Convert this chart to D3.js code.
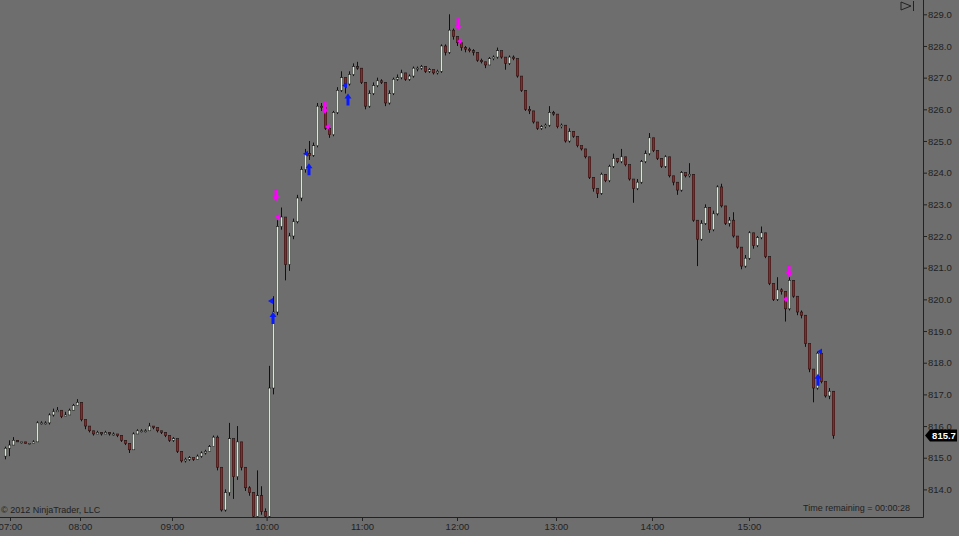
<!DOCTYPE html>
<html><head><meta charset="utf-8">
<script src="https://cdn.jsdelivr.net/npm/d3@7"></script>
<style>
html,body{margin:0;padding:0;background:#6e6e6e;overflow:hidden}
svg{display:block}
text{font-family:"Liberation Sans",Arial,sans-serif}
</style></head>
<body>
<svg id="chart" width="959" height="536"></svg>
<script>
// ---- data (1 bar per slot, open = previous close) ----
const firstOpen = 815.05;
const closes = [
815.3,815.4,815.55,815.5,815.5,815.45,815.45,815.5,816.1,816.1,
816.1,816.35,816.45,816.5,816.3,816.35,816.5,816.65,816.75,816.2,
816.0,815.85,815.75,815.8,815.75,815.8,815.75,815.75,815.7,815.55,
815.45,815.25,815.75,815.85,815.85,815.85,816.0,815.95,815.85,815.8,
815.7,815.55,815.6,815.2,814.9,814.95,815.0,814.95,815.05,815.15,
815.2,815.35,815.65,814.7,813.35,813.9,815.6,814.4,815.5,814.7,
814.05,813.9,813.15,813.8,813.3,813.15,817.2,819.6,822.3,822.6,
821.1,822.0,822.45,823.2,824.1,824.6,824.55,824.85,826.1,826.05,
825.4,825.2,825.9,826.6,827.0,826.8,827.1,827.35,827.3,826.85,
826.1,826.5,826.75,826.9,826.85,826.2,826.5,826.95,827.0,827.15,
826.95,827.05,827.3,827.3,827.35,827.2,827.25,827.15,827.2,828.0,
827.8,828.5,828.3,828.1,827.95,827.9,827.85,827.8,827.55,827.5,
827.4,827.6,827.65,827.85,827.65,827.45,827.65,827.6,827.05,826.6,
826.0,825.95,825.6,825.4,825.45,825.5,825.9,825.85,825.45,825.5,
825.0,825.3,825.15,824.85,824.75,824.5,823.85,823.5,823.35,823.95,
823.75,824.2,824.45,824.35,824.5,824.25,823.8,823.5,823.7,824.35,
824.6,825.1,824.7,824.45,824.2,824.5,823.9,823.7,823.45,824.0,
823.9,823.95,822.5,821.9,822.4,822.9,822.2,822.7,823.55,822.95,
822.4,822.5,822.0,821.65,821.05,821.3,822.1,821.7,821.95,822.1,
821.35,820.5,820.0,820.3,820.25,819.7,820.6,820.1,819.6,819.5,
818.6,817.8,817.2,818.3,817.4,816.95,817.1,815.7];
const highs = [
815.35,815.55,815.65,815.55,815.5,815.5,815.45,815.55,816.15,816.15,
816.15,816.4,816.55,816.6,816.5,816.45,816.55,816.7,816.85,816.75,
816.2,816.0,815.85,815.85,815.8,815.85,815.8,815.8,815.75,815.7,
815.55,815.45,815.8,815.9,815.9,815.9,816.1,816.0,815.95,815.85,
815.8,815.7,815.65,815.6,815.2,815.0,815.05,815.0,815.1,815.2,
815.25,815.4,815.7,815.7,814.7,814.0,816.1,815.6,816.0,815.5,
814.7,814.1,813.9,814.6,814.1,813.4,817.9,820.1,822.5,822.9,
822.6,822.1,822.55,823.3,824.2,824.75,825.0,824.95,826.2,826.2,
826.05,825.45,825.95,826.7,827.2,827.0,827.2,827.45,827.5,827.3,
826.85,826.6,826.85,827.0,826.95,826.85,826.6,827.0,827.1,827.25,
827.15,827.1,827.35,827.35,827.4,827.35,827.3,827.25,827.25,828.05,
828.05,829.0,828.55,828.3,828.1,828.0,827.95,827.9,827.8,827.6,
827.5,827.65,827.7,827.95,827.85,827.65,827.7,827.7,827.6,827.05,
826.6,826.1,825.95,825.6,825.5,825.55,826.1,825.95,825.85,825.55,
825.5,825.4,825.3,825.15,824.85,824.75,824.5,823.85,823.5,824.0,
823.95,824.25,824.6,824.45,824.75,824.5,824.25,823.8,823.8,824.4,
824.7,825.25,825.1,824.7,824.45,824.55,824.5,823.9,823.7,824.05,
824.0,824.3,823.95,822.5,822.5,823.0,822.9,822.8,823.6,823.65,
822.95,822.6,822.75,822.0,821.65,821.4,822.15,822.1,822.0,822.3,
822.1,821.35,820.5,820.7,820.35,820.25,820.7,820.6,820.1,819.65,
819.5,818.6,817.8,818.35,818.3,817.4,817.2,817.1];
const lows = [
814.95,815.05,815.4,815.5,815.45,815.45,815.4,815.45,815.5,816.05,
816.05,816.05,816.3,816.45,816.25,816.3,816.35,816.5,816.65,816.15,
815.9,815.8,815.7,815.75,815.7,815.75,815.7,815.7,815.65,815.5,
815.4,815.15,815.25,815.75,815.8,815.8,815.85,815.9,815.8,815.75,
815.65,815.5,815.5,815.15,814.85,814.85,814.9,814.9,814.95,815.0,
815.1,815.2,815.35,814.6,813.3,813.3,813.8,813.7,814.3,814.6,
813.95,813.8,813.1,813.1,813.2,813.0,813.0,817.0,819.5,822.2,
820.6,820.9,821.9,822.4,823.1,824.0,824.4,824.5,824.8,825.95,
825.35,825.1,825.15,825.85,826.55,826.5,826.75,827.05,827.25,826.8,
826.0,826.05,826.45,826.7,826.8,826.1,826.15,826.45,826.9,826.95,
826.9,826.9,827.0,827.2,827.25,827.15,827.15,827.1,827.1,827.15,
827.7,827.75,828.2,828.0,827.85,827.8,827.8,827.7,827.5,827.45,
827.3,827.4,827.55,827.6,827.6,827.25,827.4,827.55,827.0,826.55,
825.95,825.85,825.55,825.35,825.35,825.4,825.45,825.8,825.4,825.4,
824.95,824.95,825.1,824.8,824.7,824.45,823.8,823.4,823.2,823.3,
823.7,823.7,824.15,824.3,824.3,824.2,823.75,823.05,823.45,823.65,
824.3,824.55,824.65,824.4,824.15,824.15,823.85,823.6,823.3,823.4,
823.85,823.85,822.45,821.05,821.85,822.35,822.1,822.15,822.65,822.9,
822.35,822.3,821.95,821.6,820.95,821.0,821.25,821.6,821.65,821.9,
821.3,820.45,819.95,819.95,820.15,819.3,819.65,820.05,819.5,819.4,
818.5,817.7,816.75,817.15,817.35,816.9,816.85,815.6];

const priceTicks = [814,815,816,817,818,819,820,821,822,823,824,825,826,827,828,829];
const hourLabels = ["07:00","08:00","09:00","10:00","11:00","12:00","13:00","14:00","15:00"];
const hourBars  = [1.25,18.75,41.75,65.4,89.25,113,137.75,161.75,186];

// signals: bars and prices (arrow tip price)
const sellBars = [67.75,80,113.25,196];
const sellPrices = [823.1,825.85,828.5,820.7];
const buyBars  = [67,76,85.75,203.25];
const buyPrices = [819.6,824.3,826.5,817.65];
const sellExitBars = [68.25,80.75,113.75,195.25];
const sellExitPrices = [822.6,825.45,828.15,820.0];
const buyEntryBars = [66.5,75.25,85,203.75];
const buyEntryPrices = [819.95,824.6,826.75,818.35];
const lastPrice = 815.7;

// ---- build ----
const N = closes.length;
const bars = closes.map((c,i)=>({i, o: i===0?firstOpen:closes[i-1], c, h: highs[i], l: lows[i]}));

const W=959,H=536, plotR=923, plotB=517;
const svg = d3.select("#chart");
svg.append("rect").attr("width",W).attr("height",H).attr("fill","#6e6e6e");

const x = d3.scaleLinear().domain([0,N-1]).range([5,833]);
const y = d3.scaleLinear().domain([814,829]).range([489.4,14.3]);

svg.append("clipPath").attr("id","clip").append("rect")
  .attr("x",0).attr("y",0).attr("width",plotR).attr("height",plotB);

const g = svg.append("g").attr("clip-path","url(#clip)");
const bw = 2.5;

g.selectAll("line.wick").data(bars).join("line")
  .attr("x1",d=>Math.round(x(d.i))+0.5).attr("x2",d=>Math.round(x(d.i))+0.5)
  .attr("y1",d=>y(d.h)).attr("y2",d=>y(d.l))
  .attr("stroke","#111").attr("stroke-width",1);

g.selectAll("rect.body").data(bars).join("rect")
  .attr("x",d=>Math.round(x(d.i))+0.5-bw/2)
  .attr("y",d=>y(Math.max(d.o,d.c)))
  .attr("width",bw)
  .attr("height",d=>Math.max(1,Math.abs(y(d.o)-y(d.c))))
  .attr("fill",d=>d.c>=d.o?"#dbe6d6":"#a01f1f")
  .attr("stroke","#111").attr("stroke-width",0.5);

// sell arrows (magenta, pointing down) / buy arrows (blue, pointing up)
const arrowDown = "M-1.5,-12 L1.5,-12 L1.5,-5 L3.5,-5 L0,0 L-3.5,-5 L-1.5,-5 Z";
const arrowUp   = "M-1.5,12 L1.5,12 L1.5,5 L3.5,5 L0,0 L-3.5,5 L-1.5,5 Z";
g.selectAll("path.sell").data(sellBars).join("path")
  .attr("d",arrowDown)
  .attr("transform",(b,i)=>`translate(${x(b)},${y(sellPrices[i])})`)
  .attr("fill","#ff00ff");
g.selectAll("path.buy").data(buyBars).join("path")
  .attr("d",arrowUp)
  .attr("transform",(b,i)=>`translate(${x(b)},${y(buyPrices[i])})`)
  .attr("fill","#0a1aff");
g.selectAll("path.sx").data(sellExitBars).join("path")
  .attr("d","M0,-3 L2.5,0 L0,3 L-2.5,0 Z")
  .attr("transform",(b,i)=>`translate(${x(b)},${y(sellExitPrices[i])})`)
  .attr("fill","#ff00ff");
g.selectAll("path.be").data(buyEntryBars).join("path")
  .attr("d","M-3,0 L2,-3 L2,3 Z")
  .attr("transform",(b,i)=>`translate(${x(b)},${y(buyEntryPrices[i])})`)
  .attr("fill","#0a1aff");

// axes
const yAxis = d3.axisRight(y).tickValues(priceTicks).tickFormat(d3.format(".1f")).tickSize(4).tickPadding(1);
const ya = svg.append("g").attr("transform",`translate(${plotR},0)`).call(yAxis);
ya.select(".domain").remove();
ya.selectAll("line").attr("stroke","#222");
ya.selectAll("text").attr("fill","#222").attr("font-size","9.5px").attr("font-family","Liberation Sans, Arial, sans-serif");

const xAxis = d3.axisBottom(x).tickValues(hourBars).tickFormat((d,i)=>hourLabels[i]).tickSize(4).tickPadding(2);
const xa = svg.append("g").attr("transform",`translate(0,${plotB})`).call(xAxis);
xa.select(".domain").remove();
xa.selectAll("line").attr("stroke","#222");
xa.selectAll("text").attr("fill","#222").attr("font-size","9.5px").attr("font-family","Liberation Sans, Arial, sans-serif");

svg.append("line").attr("x1",plotR+0.5).attr("x2",plotR+0.5).attr("y1",0).attr("y2",plotB+0.5).attr("stroke","#222");
svg.append("line").attr("x1",0).attr("x2",plotR+0.5).attr("y1",plotB+0.5).attr("y2",plotB+0.5).attr("stroke","#222");

// last price marker
const ly = y(lastPrice);
const lm = svg.append("g").attr("transform",`translate(${plotR+2},${ly})`);
lm.append("path").attr("d","M0,0 L5,-6 L32,-6 L32,6 L5,6 Z").attr("fill","#000");
lm.append("text").attr("x",19).attr("y",3.5).attr("text-anchor","middle").attr("fill","#fff")
  .attr("font-size","9.5px").attr("font-weight","bold").text(lastPrice.toFixed(1));

// texts
svg.append("text").attr("x",1).attr("y",513).attr("fill","#222").attr("font-size","9px").text("© 2012 NinjaTrader, LLC");
svg.append("text").attr("x",910).attr("y",511).attr("text-anchor","end").attr("fill","#222").attr("font-size","9px").text("Time remaining = 00:00:28");

// top-right scroll icon
const ic = svg.append("g").attr("transform","translate(900,1)");
ic.append("path").attr("d","M1,1 L11,5 L1,9 Z").attr("fill","none").attr("stroke","#222");
ic.append("line").attr("x1",13.5).attr("x2",13.5).attr("y1",0).attr("y2",10).attr("stroke","#222");
</script>
</body></html>
